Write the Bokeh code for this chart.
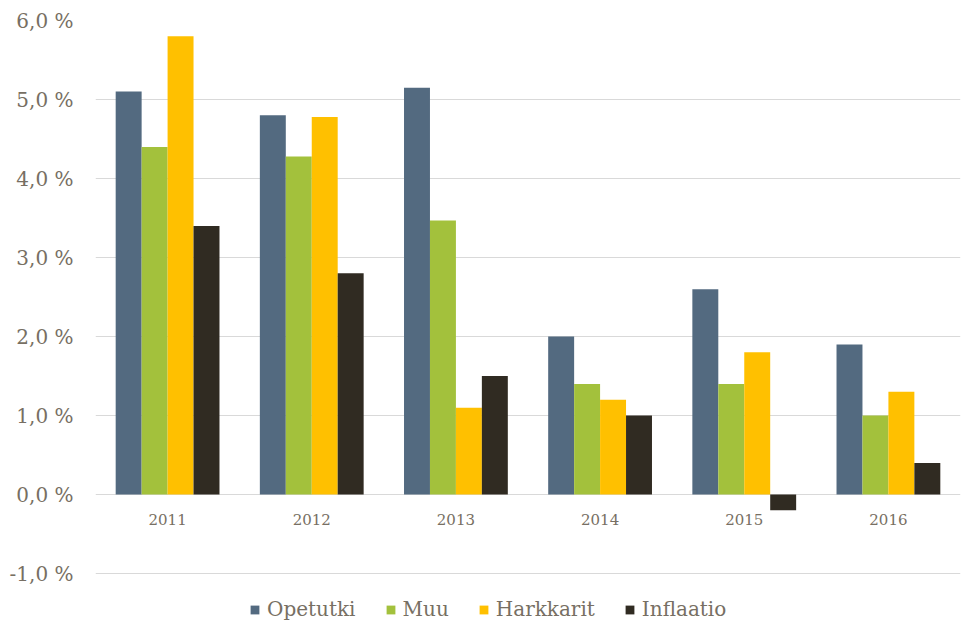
from bokeh.plotting import figure
from bokeh.models import (FactorRange, Range1d, FixedTicker, CustomJSTickFormatter,
                          ColumnDataSource, Legend, LegendItem)
from bokeh.transform import dodge
from bokeh.core.properties import value
from bokeh.embed import file_html
from bokeh.resources import INLINE

years = ["2011", "2012", "2013", "2014", "2015", "2016"]
opetutki = [5.1, 4.8, 5.15, 2.0, 2.6, 1.9]
muu = [4.4, 4.28, 3.47, 1.4, 1.4, 1.0]
harkkarit = [5.8, 4.78, 1.1, 1.2, 1.8, 1.3]
inflaatio = [3.4, 2.8, 1.5, 1.0, -0.2, 0.4]
series_names = ["Opetutki", "Muu", "Harkkarit", "Inflaatio"]
y_ticks = [-1, 0, 1, 2, 3, 4, 5, 6]

colors = ["#536a80", "#a3c13c", "#ffc000", "#302b22"]
text_color = "#776f63"
font = "DejaVu Serif"

src = ColumnDataSource(dict(x=years, opetutki=opetutki, muu=muu,
                            harkkarit=harkkarit, inflaatio=inflaatio,
                            zero=[0] * len(years)))

p = figure(width=967, height=628, output_backend="svg", toolbar_location=None,
           x_range=FactorRange(*years, range_padding=0),
           y_range=Range1d(-1.67, 6.0),
           min_border_left=95, min_border_right=7, min_border_top=20,
           min_border_bottom=2)

p.outline_line_color = None
p.xgrid.grid_line_color = None
p.ygrid.grid_line_color = "#d9d9d9"
p.ygrid.grid_line_width = 1
p.ygrid.ticker = FixedTicker(ticks=y_ticks)

p.xaxis.visible = False
p.yaxis.ticker = FixedTicker(ticks=y_ticks)
p.yaxis.formatter = CustomJSTickFormatter(
    code="return tick.toFixed(1).replace('.', ',') + ' %';")
p.yaxis.axis_line_color = None
p.yaxis.major_tick_line_color = None
p.yaxis.minor_tick_line_color = None
p.yaxis.major_label_text_font = font
p.yaxis.major_label_text_font_size = "20px"
p.yaxis.major_label_text_color = text_color
p.yaxis.major_label_standoff = 16

keys = ["opetutki", "muu", "harkkarit", "inflaatio"]
offsets = [-0.27, -0.09, 0.09, 0.27]
renderers = []
for k, off, c in zip(keys, offsets, colors):
    r = p.vbar(x=dodge("x", off, range=p.x_range), top=k, bottom=0, width=0.18,
               source=src, fill_color=c, line_color=None)
    renderers.append(r)

p.text(x="x", y="zero", text="x", source=src, text_align="center",
       text_baseline="middle", y_offset=25, text_font=value(font),
       text_font_size="15px", text_color=text_color)

legend = Legend(items=[LegendItem(label=n, renderers=[r]) for n, r in zip(series_names, renderers)],
                location=(154, 5), orientation="horizontal",
                background_fill_alpha=0, border_line_color=None,
                label_text_font=font, label_text_font_size="20px",
                label_text_color=text_color, glyph_width=11, glyph_height=11,
                label_standoff=7, spacing=29, padding=0, margin=0)
p.add_layout(legend)

open("out.html", "w").write(file_html(p, INLINE))
